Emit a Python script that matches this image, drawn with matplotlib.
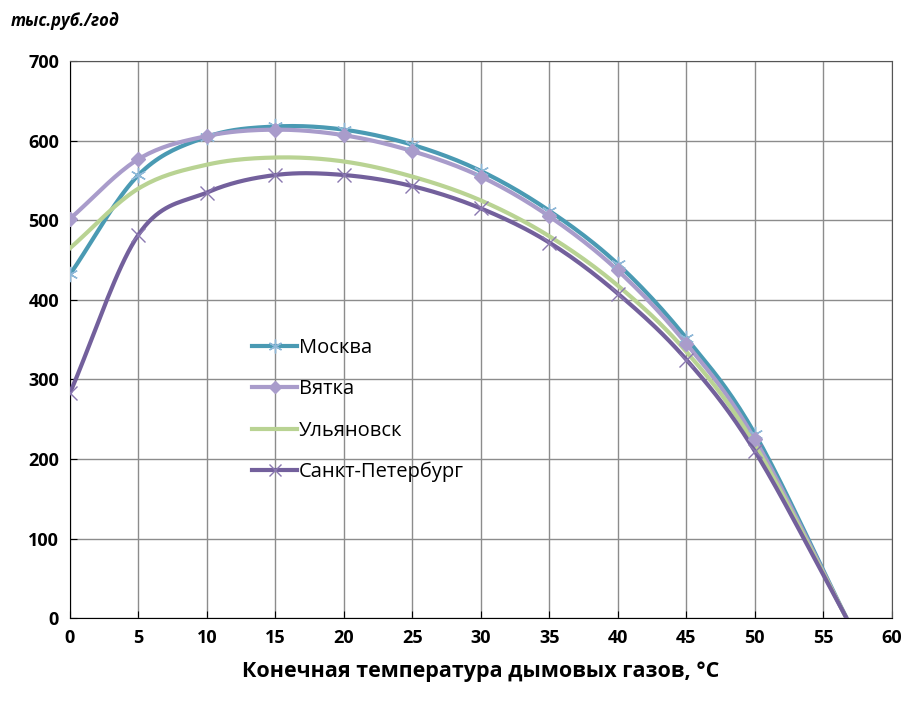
import numpy as np
import matplotlib.pyplot as plt

# конечная температура дымовых газов, °C
temps = [0, 5, 10, 15, 20, 25, 30, 35, 40, 45, 50, 56.7]

moskva = [432, 557, 605, 618, 614, 595, 562, 512, 445, 352, 232, 0]
vyatka = [502, 577, 606, 614, 607, 587, 555, 505, 437, 345, 225, 0]
ulyanovsk = [465, 540, 570, 579, 574, 555, 525, 480, 418, 335, 218, 0]
spb = [283, 482, 535, 557, 557, 543, 515, 472, 408, 325, 210, 0]

names = ["Москва", "Вятка", "Ульяновск", "Санкт-Петербург"]


def smooth(x, y, n=20):
    # сглаживание как в Excel (Catmull-Rom)
    x = np.asarray(x, float)
    y = np.asarray(y, float)
    px = np.concatenate([[2 * x[0] - x[1]], x, [2 * x[-1] - x[-2]]])
    py = np.concatenate([[2 * y[0] - y[1]], y, [2 * y[-1] - y[-2]]])
    xs, ys = [], []
    t = np.linspace(0, 1, n, endpoint=False)
    for i in range(1, len(px) - 2):
        for p, out in ((px, xs), (py, ys)):
            p0, p1, p2, p3 = p[i - 1], p[i], p[i + 1], p[i + 2]
            out.extend(0.5 * (2 * p1 + (-p0 + p2) * t
                              + (2 * p0 - 5 * p1 + 4 * p2 - p3) * t ** 2
                              + (-p0 + 3 * p1 - 3 * p2 + p3) * t ** 3))
    xs.append(x[-1])
    ys.append(y[-1])
    return xs, ys


plt.rcParams['font.family'] = ['Open Sans', 'DejaVu Sans']

fig = plt.figure(figsize=(9.09, 7.04), dpi=100)
ax = fig.add_axes([0.077, 0.122, 0.904, 0.791])

styles = [
    (moskva, "#4a9ab3", (6, 2, 0), 11, "#8fb8d8"),
    (vyatka, "#a99ccb", "D", 7, "#a99ccb"),
    (ulyanovsk, "#b9d393", None, 0, "#b9d393"),
    (spb, "#73609c", "x", 10, "#8a78b0"),
]

for (vals, col, mk, ms, mcol), name in zip(styles, names):
    sx, sy = smooth(temps, vals)
    ax.plot(sx, sy, color=col, lw=3, zorder=3)
    if mk is not None:
        ax.plot(temps[:-1], vals[:-1], ls="none", marker=mk, ms=ms,
                color=mcol, mec=mcol, mew=1.0, zorder=4)
    ax.plot([], [], color=col, lw=3, marker=mk, ms=ms * 0.9,
            mec=mcol, mfc=mcol, mew=1.0, label=name)

ax.set_xlim(0, 60)
ax.set_ylim(0, 700)
ax.set_xticks(range(0, 61, 5))
ax.set_yticks(range(0, 701, 100))
ax.grid(True, color="#8c8c8c", lw=1)
ax.set_axisbelow(True)
ax.tick_params(direction="in", length=5, labelsize=13, pad=8)
for lab in ax.get_xticklabels() + ax.get_yticklabels():
    lab.set_fontweight("bold")
for side in ["top", "right"]:
    ax.spines[side].set_color("#555555")

ax.set_xlabel("Конечная температура дымовых газов, °C",
              fontsize=15.5, fontweight="bold", labelpad=10)
fig.text(0.012, 0.963, "тыс.руб./год", fontsize=12, fontweight="bold",
         style="italic")

ax.legend(loc="upper left", bbox_to_anchor=(0.2, 0.535), frameon=False,
          fontsize=14.5, handlelength=2.2, handletextpad=0.1,
          labelspacing=1.05)

plt.savefig("out.png")
plt.close()
